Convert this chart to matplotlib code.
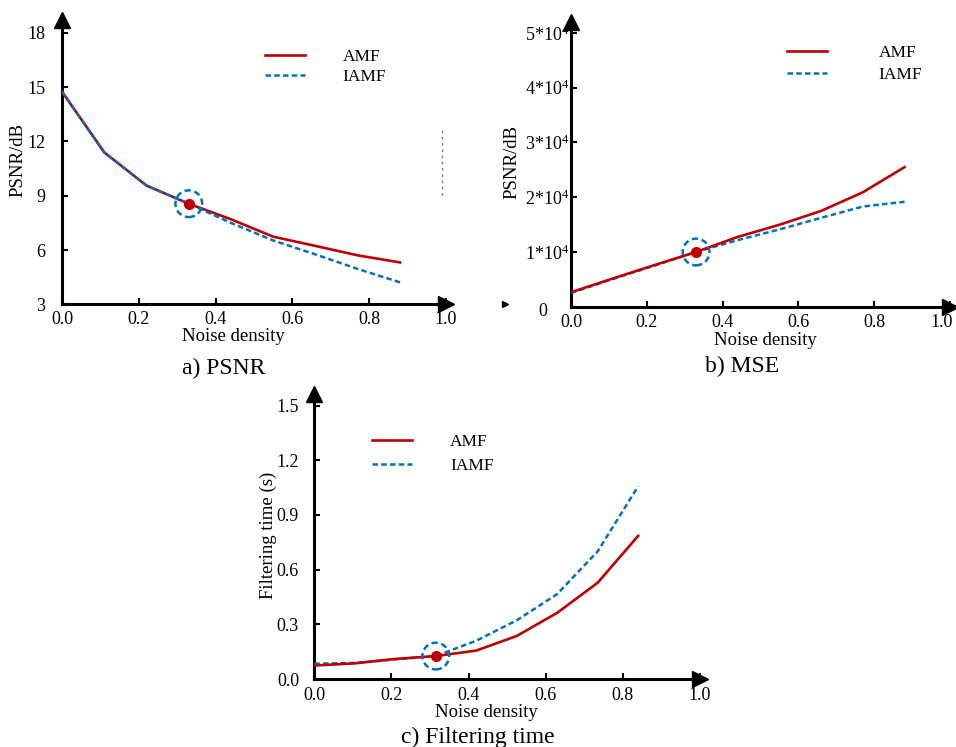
import matplotlib
matplotlib.use('Agg')
import matplotlib.pyplot as plt
from matplotlib.lines import Line2D
from matplotlib.transforms import ScaledTranslation

plt.rcParams['font.family'] = ['Liberation Serif', 'DejaVu Serif']
plt.rcParams['mathtext.fontset'] = 'custom'
plt.rcParams['mathtext.rm'] = 'Liberation Serif'
plt.rcParams['mathtext.it'] = 'Liberation Serif:italic'

RED = '#C00000'
BLUE = '#0070C0'

# noise density values (x)
noise_ab = [0, 0.11, 0.22, 0.33, 0.44, 0.55, 0.66, 0.77, 0.88]
noise_c = [0, 0.105, 0.21, 0.315, 0.42, 0.525, 0.63, 0.735, 0.84]

psnr_amf = [14.74, 11.39, 9.56, 8.56, 7.70, 6.74, 6.23, 5.71, 5.32]
psnr_iamf = [14.74, 11.39, 9.56, 8.56, 7.50, 6.53, 5.76, 4.96, 4.22]

mse_amf = [2640, 5150, 7600, 10000, 12750, 14970, 17500, 20900, 25500]
mse_iamf = [2500, 5050, 7500, 10000, 12170, 14120, 16240, 18300, 19170]

time_amf = [0.074, 0.086, 0.110, 0.126, 0.156, 0.236, 0.363, 0.528, 0.785]
time_iamf = [0.084, 0.088, 0.108, 0.126, 0.210, 0.322, 0.466, 0.700, 1.057]

x_ticks = [0.0, 0.2, 0.4, 0.6, 0.8, 1.0]
x_ticklabels = ['0.0', '0.2', '0.4', '0.6', '0.8', '1.0']
psnr_ticks = [3, 6, 9, 12, 15, 18]
psnr_ticklabels = ['3', '6', '9', '12', '15', '18']
mse_ticks = [0, 10000, 20000, 30000, 40000, 50000]
mse_ticklabels = ['0', '1*10$^4$', '2*10$^4$', '3*10$^4$', '4*10$^4$', '5*10$^4$']
time_ticks = [0.0, 0.3, 0.6, 0.9, 1.2, 1.5]
time_ticklabels = ['0.0', '0.3', '0.6', '0.9', '1.2', '1.5']

HL = 3  # highlighted crossing point


def draw_panel(ax, x, amf, iamf, ylim, yticks, yticklabels, ylabel,
               xlab_pos, ylab_pos, leg_pos, leg_gap, leg_space,
               ypad, xpad, blue_top=True, ysize=13):
    zr, zb = (3, 4) if blue_top else (4, 3)
    ax.plot(x, amf, color=RED, lw=1.9, label='AMF', zorder=zr)
    ax.plot(x, iamf, color=BLUE, lw=1.8, ls=(0, (2.2, 1.3)),
            label='IAMF', zorder=zb)
    ax.plot(x[HL], amf[HL], 'o', color=RED, ms=7, zorder=6)
    ax.scatter([x[HL]], [amf[HL]], s=370, facecolors='none',
               edgecolors=BLUE, linewidths=1.8, linestyles=(0, (2.5, 1.5)),
               zorder=6)

    ax.set_xlim(0, 1.0)
    ax.set_ylim(*ylim)
    ax.set_xticks(x_ticks)
    ax.set_xticklabels(x_ticklabels)
    ax.set_yticks(yticks)
    ax.set_yticklabels(yticklabels)
    ax.tick_params(direction='in', length=4, width=1.5)
    ax.tick_params(axis='x', pad=xpad, labelsize=13)
    ax.tick_params(axis='y', pad=ypad, labelsize=ysize)

    for s in ['top', 'right']:
        ax.spines[s].set_visible(False)
    for s in ['left', 'bottom']:
        ax.spines[s].set_linewidth(2.2)
    ax.plot(1, 0, marker='>', color='k', ms=11, transform=ax.transAxes,
            clip_on=False)
    ax.plot(0, 1, marker='^', color='k', ms=11, transform=ax.transAxes,
            clip_on=False)

    ax.set_xlabel('Noise density', fontsize=13.5, va='center')
    ax.xaxis.set_label_coords(*xlab_pos)
    ax.set_ylabel(ylabel, fontsize=13.5, va='center')
    ax.yaxis.set_label_coords(*ylab_pos)

    ax.legend(loc='center', bbox_to_anchor=leg_pos, frameon=False,
              fontsize=12.5, handlelength=2.3, handletextpad=leg_gap,
              labelspacing=leg_space)
    ax.patch.set_alpha(0)


def nudge(label, dx, dy):
    label.set_transform(label.get_transform() +
                        ScaledTranslation(dx / 100, dy / 100,
                                          fig.dpi_scale_trans))


fig = plt.figure(figsize=(9.56, 7.47), dpi=100)

ax1 = fig.add_axes([0.0649, 0.5924, 0.4017, 0.3809])
draw_panel(ax1, noise_ab, psnr_amf, psnr_iamf, (3, 18.7),
           psnr_ticks, psnr_ticklabels, 'PSNR/dB',
           (0.445, -0.114), (-0.115, 0.508), (0.686, 0.835), 2.2, 0.22,
           ypad=12, xpad=5, blue_top=True)

ax2 = fig.add_axes([0.5973, 0.5894, 0.3964, 0.3811])
draw_panel(ax2, noise_ab, mse_amf, mse_iamf, (0, 52000),
           mse_ticks, mse_ticklabels, 'PSNR/dB',
           (0.514, -0.117), (-0.156, 0.509), (0.748, 0.852), 3.0, 0.32,
           ypad=1.5, xpad=5, blue_top=False, ysize=13)
nudge(ax2.yaxis.get_major_ticks()[0].label1, -22, -3)
nudge(ax2.xaxis.get_major_ticks()[-1].label1, -8, 0)

ax3 = fig.add_axes([0.3288, 0.0910, 0.4032, 0.3815])
draw_panel(ax3, noise_c, time_amf, time_iamf, (0, 1.563),
           time_ticks, time_ticklabels, 'Filtering time (s)',
           (0.447, -0.117), (-0.119, 0.505), (0.308, 0.790), 2.2, 0.42,
           ypad=11, xpad=5.5, blue_top=False)

fig.text(224 / 956, 1 - 368 / 747, 'a) PSNR', fontsize=17,
         ha='center', va='center')
fig.text(741.7 / 956, 1 - 366.7 / 747, 'b) MSE', fontsize=17,
         ha='center', va='center')
fig.text(478.3 / 956, 1 - 737 / 747, 'c) Filtering time', fontsize=17,
         ha='center', va='center')

# small leftovers visible in the source picture
fig.add_artist(Line2D([441.7 / 956] * 2, [1 - 130 / 747, 1 - 197 / 747],
                      color='0.5', lw=1, ls=(0, (2, 2.5))))
fig.add_artist(Line2D([505 / 956], [1 - 303.7 / 747], marker='>',
                      ms=4, color='k', lw=0))

fig.savefig('out.png', dpi=100)
